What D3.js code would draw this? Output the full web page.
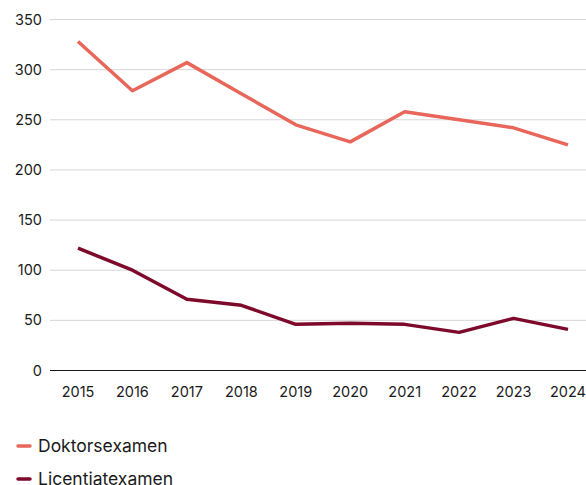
<!DOCTYPE html>
<html><head><meta charset="utf-8">
<script src="https://cdn.jsdelivr.net/npm/d3@7"></script>
<style>body{margin:0;background:#fff;overflow:hidden}svg{display:block}text{font-family:Inter,"Open Sans",sans-serif;fill:#1a1a1a}</style>
</head><body>
<svg id="c" width="586" height="485"></svg>
<script>
const years = ["2015","2016","2017","2018","2019","2020","2021","2022","2023","2024"];
const doktor = [328, 279, 307, 276, 245, 228, 258, 250, 242, 225];
const licentiat = [122, 100, 71, 65, 46, 47, 46, 38, 52, 41];
const yTicks = [0, 50, 100, 150, 200, 250, 300, 350];
const seriesNames = ["Doktorsexamen", "Licentiatexamen"];
const colors = ["#E8675A", "#7D0A2B"];

const svg = d3.select("#c");
const x = d3.scalePoint().domain(years).range([78, 568]);
const y = d3.scaleLinear().domain([0, 350]).range([370.5, 19.5]);
const left = 50, right = 586;

svg.append("g").selectAll("line").data(yTicks.filter(d => d > 0)).join("line")
  .attr("x1", left).attr("x2", right)
  .attr("y1", d => y(d)).attr("y2", d => y(d))
  .attr("stroke", "#d6d6d6").attr("stroke-width", 1);
svg.append("line").attr("x1", left).attr("x2", right)
  .attr("y1", y(0)).attr("y2", y(0)).attr("stroke", "#1a1a1a").attr("stroke-width", 1.2);

svg.append("g").selectAll("text").data(yTicks).join("text")
  .attr("x", 42).attr("y", d => y(d)).attr("dy", "0.35em")
  .attr("text-anchor", "end").attr("font-size", 14.5).text(d => d);

svg.append("g").selectAll("text").data(years).join("text")
  .attr("x", d => x(d)).attr("y", 392).attr("dy", "0.35em")
  .attr("text-anchor", "middle").attr("font-size", 14.5).text(d => d);

const line = d3.line().x((d, i) => x(years[i])).y(d => y(d));
[doktor, licentiat].forEach((s, k) => {
  svg.append("path").datum(s).attr("d", line)
    .attr("fill", "none").attr("stroke", colors[k]).attr("stroke-width", 3.5)
    .attr("stroke-linejoin", "round");
});

const leg = svg.append("g").selectAll("g").data(seriesNames).join("g")
  .attr("transform", (d, i) => `translate(0,${446 + i * 33})`);
leg.append("line").attr("x1", 18).attr("x2", 30).attr("y1", 0).attr("y2", 0)
  .attr("stroke", (d, i) => colors[i]).attr("stroke-width", 3.5).attr("stroke-linecap", "round");
leg.append("text").attr("x", 38).attr("y", 0).attr("dy", "0.35em")
  .attr("font-size", 17.5).text(d => d);
</script>
</body></html>
